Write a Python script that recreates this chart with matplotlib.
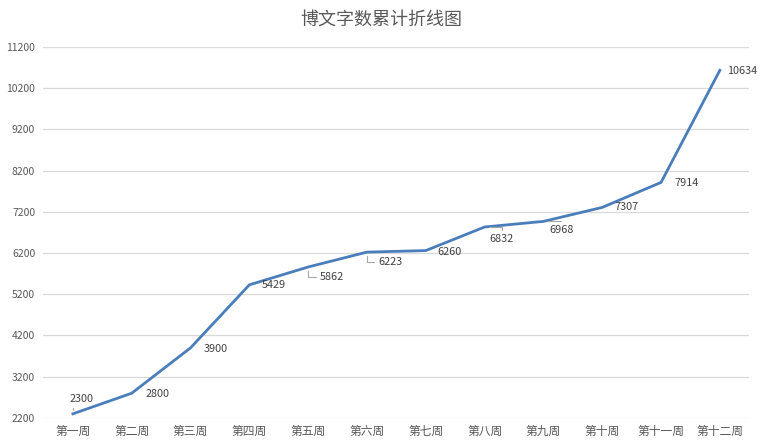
import matplotlib
matplotlib.use("Agg")
import matplotlib.pyplot as plt

plt.rcParams['font.family'] = ['Noto Sans CJK SC', 'DejaVu Sans']

weeks = ["第一周", "第二周", "第三周", "第四周", "第五周", "第六周",
         "第七周", "第八周", "第九周", "第十周", "第十一周", "第十二周"]
words = [2300, 2800, 3900, 5429, 5862, 6223, 6260, 6832, 6968, 7307, 7914, 10634]
yticks = [2200, 3200, 4200, 5200, 6200, 7200, 8200, 9200, 10200, 11200]
title = "博文字数累计折线图"

# label offsets in pixels (dx, dy) and leader style (None, 'v' vertical-first, 'h' horizontal)
offsets = [(-3, 15), (14, -1), (13, -1), (12, 0), (12, -10), (11, -10),
           (12, -1), (5, -12), (6, -9), (12, 0), (13, -1), (7, -1)]
leaders = ['v', None, None, None, 'v', 'v', None, 'h', 'h', None, None, None]

fig = plt.figure(figsize=(7.63, 4.47), dpi=100)
ax = fig.add_axes([0.057, 0.065, 0.925, 0.83])
x = list(range(len(weeks)))
ax.plot(x, words, color="#4A7EBB", lw=2.0, solid_joinstyle='round', zorder=3)

txtc = "#404040"
for xi, v, (dx, dy), ld in zip(x, words, offsets, leaders):
    kw = {}
    if ld == 'v':
        kw['arrowprops'] = dict(arrowstyle='-', color='#A6A6A6', lw=0.8,
                                connectionstyle='angle,angleA=0,angleB=90,rad=0',
                                shrinkA=1, shrinkB=3)
    elif ld == 'h':
        kw['arrowprops'] = dict(arrowstyle='-', color='#A6A6A6', lw=0.8,
                                connectionstyle='angle,angleA=90,angleB=0,rad=0',
                                shrinkA=1, shrinkB=3)
    ax.annotate(str(v), (xi, v), xytext=(dx, dy), textcoords='offset pixels',
                ha='left', va='center', fontsize=7.8, color=txtc, **kw)

ax.set_xlim(-0.5, len(weeks) - 0.5)
ax.set_ylim(2200, 11200)
ax.set_yticks(yticks)
ax.set_yticklabels([str(t) for t in yticks])
ax.set_xticks(x)
ax.set_xticklabels(weeks)
ax.grid(axis='y', color='#D9D9D9', lw=0.9)
ax.set_axisbelow(True)
for s in ax.spines.values():
    s.set_visible(False)
ax.tick_params(axis='both', length=0, labelsize=7.5, colors="#595959")
ax.tick_params(axis='x', labelsize=8.5, pad=5)
ax.tick_params(axis='y', pad=6)

fig.text(0.5, 0.955, title, ha='center', va='center', fontsize=13, color="#595959")
fig.savefig("out.png", dpi=100)
